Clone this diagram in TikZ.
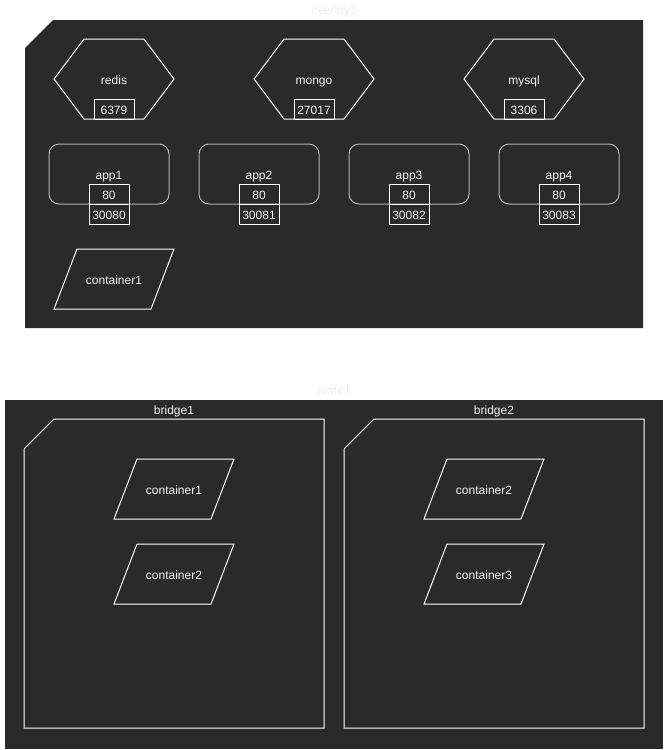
\documentclass[tikz,border=0pt]{standalone}
\usepackage{fontspec}
\setmainfont{Liberation Sans}
\usetikzlibrary{
  positioning,      % Function "of" (e.g. [below=0pt of x])
}
\definecolor{panel}{HTML}{2A2A2A}
\definecolor{wire}{HTML}{FFFFFF}
\definecolor{ink}{HTML}{F4F4F4}
\definecolor{soft}{HTML}{B4B4B4}
\definecolor{faint}{HTML}{EDEDED}
% Hexagonal service with its port at the bottom
\newcommand{\hexsvc}[4]{
  \node[svc] (#1) at (#2) {#3};
  \draw[wire line] (#1.west) -- ([xshift=30pt]#1.north west)
    -- ([xshift=-30pt]#1.north east) -- (#1.east)
    -- ([xshift=-30pt]#1.south east) -- ([xshift=30pt]#1.south west) -- cycle;
  \node[port,above=0pt of #1.south] (#1-port) {#4};
}
% Parallelogram for a container
\newcommand{\cont}[3]{
  \node[container] (#1) at (#2) {#3};
  \draw[wire line] ([xshift=23pt]#1.north west) -- (#1.north east)
    -- ([xshift=-23pt]#1.south east) -- (#1.south west) -- cycle;
}
\tikzset{
  font=\fontsize{12}{14}\selectfont,
  every node/.style={
    text=ink,
    inner sep=0pt,
    outer sep=0pt,
    text height=10pt,
    text depth=0pt
  },
  wire line/.style={
    draw=wire,
    line width=1pt
  },
  svc/.style={
    minimum width=120pt,
    minimum height=80pt
  },
  port/.style={
    wire line,
    minimum width=40pt,
    minimum height=20pt
  },
  app/.style={
    draw=soft,
    line width=1pt,
    rounded corners=10pt,
    minimum width=120pt,
    minimum height=60pt
  },
  container/.style={
    minimum width=120pt,
    minimum height=60pt
  },
  title/.style={
    text=faint
  }
}

\begin{document}
\begin{tikzpicture}[x=1pt,y=-1pt]
\useasboundingbox (0,0) rectangle (665,750);
% overlay1
\fill[panel] (25,48) -- (53,20) -- (643,20) -- (643,328) -- (25,328) -- cycle;
\node[title] (overlay) at (334,9) {overlay1};
\hexsvc{redis}{114,79}{redis}{6379}
\hexsvc{mongo}{314,79}{mongo}{27017}
\hexsvc{mysql}{524,79}{mysql}{3306}
\node[app] (app1) at (109,174) {app1};
\node[app] (app2) at (259,174) {app2};
\node[app] (app3) at (409,174) {app3};
\node[app] (app4) at (559,174) {app4};
\node[port,above=0pt of app1.south] (app1-in)  {80};
\node[port,below=0pt of app1-in]    (app1-out) {30080};
\node[port,above=0pt of app2.south] (app2-in)  {80};
\node[port,below=0pt of app2-in]    (app2-out) {30081};
\node[port,above=0pt of app3.south] (app3-in)  {80};
\node[port,below=0pt of app3-in]    (app3-out) {30082};
\node[port,above=0pt of app4.south] (app4-in)  {80};
\node[port,below=0pt of app4-in]    (app4-out) {30083};
\cont{ov-c1}{114,279}{container1}
% node1
\fill[panel] (5,400) rectangle (663,749);
\node[title] (node) at (334,389) {node1};
\draw[wire line] (24,449) -- (54,419) -- (324,419) -- (324,728) -- (24,728) -- cycle;
\draw[wire line] (344,449) -- (374,419) -- (644,419) -- (644,728) -- (344,728) -- cycle;
\node (bridge1) at (174,409) {bridge1};
\node (bridge2) at (494,409) {bridge2};
\cont{b1-c1}{174,489}{container1}
\cont{b1-c2}{174,574}{container2}
\cont{b2-c2}{484,489}{container2}
\cont{b2-c3}{484,574}{container3}
\end{tikzpicture}
\end{document}
